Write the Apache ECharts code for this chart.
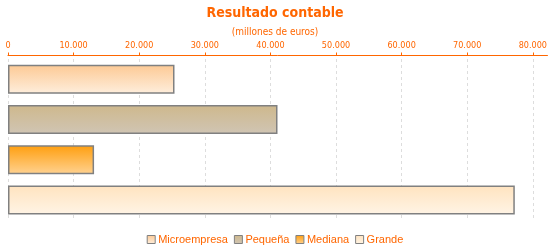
<!DOCTYPE html>
<html><head><meta charset="utf-8">
<script src="https://cdn.jsdelivr.net/npm/echarts@6/dist/echarts.min.js"></script>
<style>html,body{margin:0;padding:0;background:#fff}#c{width:550px;height:250px}</style>
</head><body><div id="c"></div>
<script>
const categories = ['Microempresa', 'Pequeña', 'Mediana', 'Grande'];
const values = [25380, 41080, 13120, 77250];
const tickValues = [0, 10000, 20000, 30000, 40000, 50000, 60000, 70000, 80000];
const topColors = ['#FDC994', '#CEB88C', '#FF9E0D', '#FFE3BF'];
const bottomColors = ['#FEEEDC', '#D0C5B4', '#FFD291', '#FFF4E5'];

const grad = i => new echarts.graphic.LinearGradient(0, 0, 0, 1, [
  {offset: 0, color: topColors[i]}, {offset: 1, color: bottomColors[i]}
]);

const chart = echarts.init(document.getElementById('c'));
const series = categories.map((name, i) => ({
  name: name,
  type: 'bar',
  stack: 'all',
  barWidth: 29,
  data: categories.map((c, j) => j === i ? values[i] : '-'),
  itemStyle: {color: grad(i), borderColor: '#808080', borderWidth: 1.5}
}));
chart.setOption({
  animation: false,
  title: {
    text: 'Resultado contable',
    subtext: '(millones de euros)',
    left: 'center',
    top: 1,
    itemGap: 7,
    textStyle: {color: '#FF6600', fontFamily: 'DejaVu Sans Condensed', fontWeight: 'bold', fontSize: 14},
    subtextStyle: {color: '#FF6600', fontFamily: 'DejaVu Sans Condensed', fontSize: 10}
  },
  legend: {
    bottom: 0,
    left: 'center',
    itemWidth: 8,
    itemHeight: 8,
    itemGap: 6,
    icon: 'rect',
    textStyle: {color: '#FF6600', fontFamily: 'Liberation Sans', fontSize: 11, padding: [0, 0, 0, -2]},
    data: categories.map((c, i) => ({name: c, itemStyle: {color: grad(i), borderColor: '#808080', borderWidth: 1}}))
  },
  grid: {left: 8, right: 1, top: 59, height: 161, containLabel: false},
  xAxis: {
    type: 'value',
    position: 'top',
    min: 0,
    max: 82230,
    interval: 10000,
    offset: 3.5,
    axisLine: {show: true, lineStyle: {color: '#FF6600', width: 1}},
    axisTick: {show: true, length: 3, lineStyle: {color: '#FF6600'}, customValues: tickValues},
    axisLabel: {color: '#FF6600', fontFamily: 'DejaVu Sans Condensed', fontSize: 9, margin: 5, customValues: tickValues,
      formatter: v => v === 0 ? '0' : v.toLocaleString('de-DE')},
    splitLine: {show: true, lineStyle: {color: '#DDDDDD', type: [3, 3]}}
  },
  yAxis: {
    type: 'category',
    inverse: true,
    data: categories,
    axisLine: {show: false},
    axisTick: {show: false},
    axisLabel: {show: false}
  },
  series: series
});
</script></body></html>
